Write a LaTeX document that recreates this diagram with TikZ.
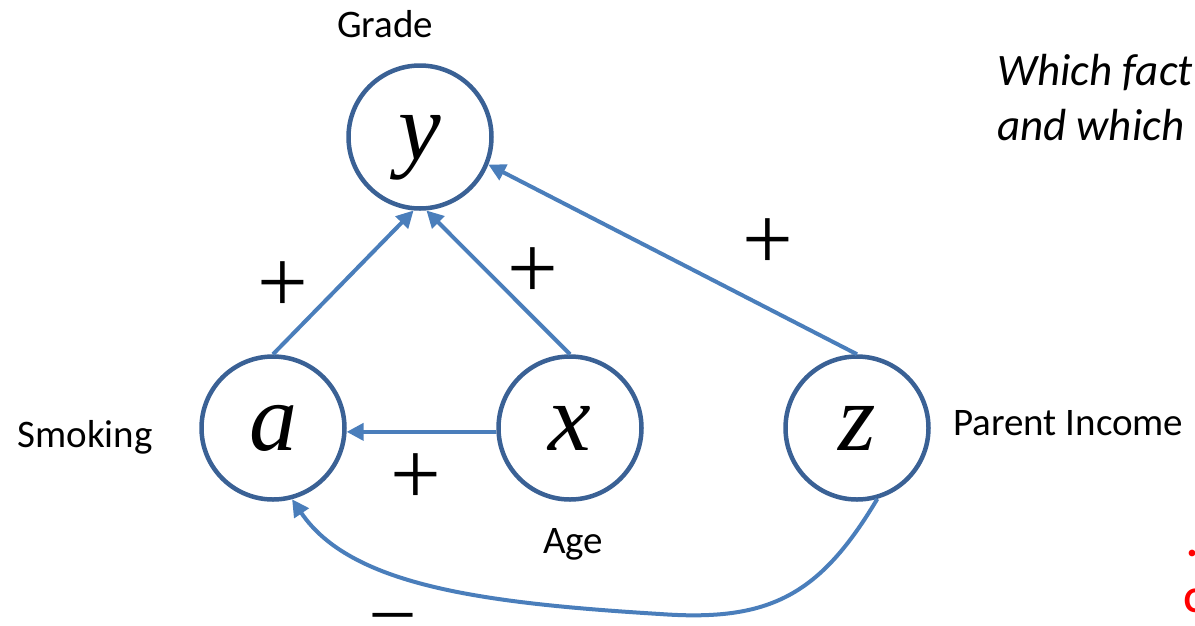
\documentclass[tikz,border=0pt]{standalone}
\usepackage{fontspec}
\setmainfont{Carlito}
\newfontfamily\varfont{Liberation Serif}
\usetikzlibrary{arrows.meta}
\definecolor{ringblue}{HTML}{3A6195}
\definecolor{arrowblue}{HTML}{4A7EBB}

\begin{document}
\begin{tikzpicture}[x=1pt, y=-1pt,
  var/.style={circle, draw=ringblue, line width=4.5pt, minimum size=143pt, inner sep=0pt,
    font=\varfont\itshape\fontsize{96}{96}\selectfont},
  lbl/.style={anchor=base, inner sep=0pt, font=\fontsize{39}{39}\selectfont},
  sgn/.style={inner sep=0pt, font=\varfont\fontsize{90}{90}\selectfont},
  arr/.style={draw=arrowblue, line width=4pt, -{Triangle[length=17pt,width=17pt]}}]
  \useasboundingbox (0,0) rectangle (1195,625);
  \clip (0,0) rectangle (1195,625);

  % the four variables
  \node[var, text depth=0pt] (ny) at (420,137) {y};
  \node[var] (na) at (273,428) {a};
  \node[var] (nx) at (570,428) {x};
  \node[var] (nz) at (857,428) {z};

  % names
  \node[lbl] (grade) at (385,37) {Grade};
  \node[lbl] (smoking) at (85,447) {Smoking};
  \node[lbl] (age) at (573,553) {Age};
  \node[lbl, anchor=base west] (income) at (953,435) {Parent Income};

  % effects
  \draw[arr] (na.north) -- (ny.-95);
  \draw[arr] (nx.north) -- (ny.-85);
  \draw[arr] (nx.183) -- (na.-3);
  \draw[arr] (nz.north) -- (ny.-22);
  \draw[arr] (nz.-74) .. controls (820,595) and (770,622) .. (660,614)
    .. controls (480,603) and (350,585) .. (na.-75);

  % signs
  \node[sgn] (s1) at (283,287) {+};
  \node[sgn] (s2) at (533,273) {+};
  \node[sgn] (s3) at (768,244) {+};
  \node[sgn] (s4) at (416,479) {+};
  \node[sgn, anchor=base, font=\varfont\fontsize{78}{78}\selectfont] (s5) at (393,615)
    {\smash{\raisebox{-0.235em}{–}}};

  % question, cut off at the right
  \node[lbl, anchor=base west, font=\itshape\fontsize{45}{45}\selectfont] (q1) at (997,85) {Which fact};
  \node[lbl, anchor=base west, font=\itshape\fontsize{45}{45}\selectfont] (q2) at (997,140) {and which};
  \node[lbl, anchor=base west, text=red, font=\bfseries\fontsize{45}{45}\selectfont] (r1) at (1186,556) {.};
  \node[lbl, anchor=base west, text=red, font=\bfseries\fontsize{36}{36}\selectfont] (r2) at (1184,612) {C};
\end{tikzpicture}
\end{document}
